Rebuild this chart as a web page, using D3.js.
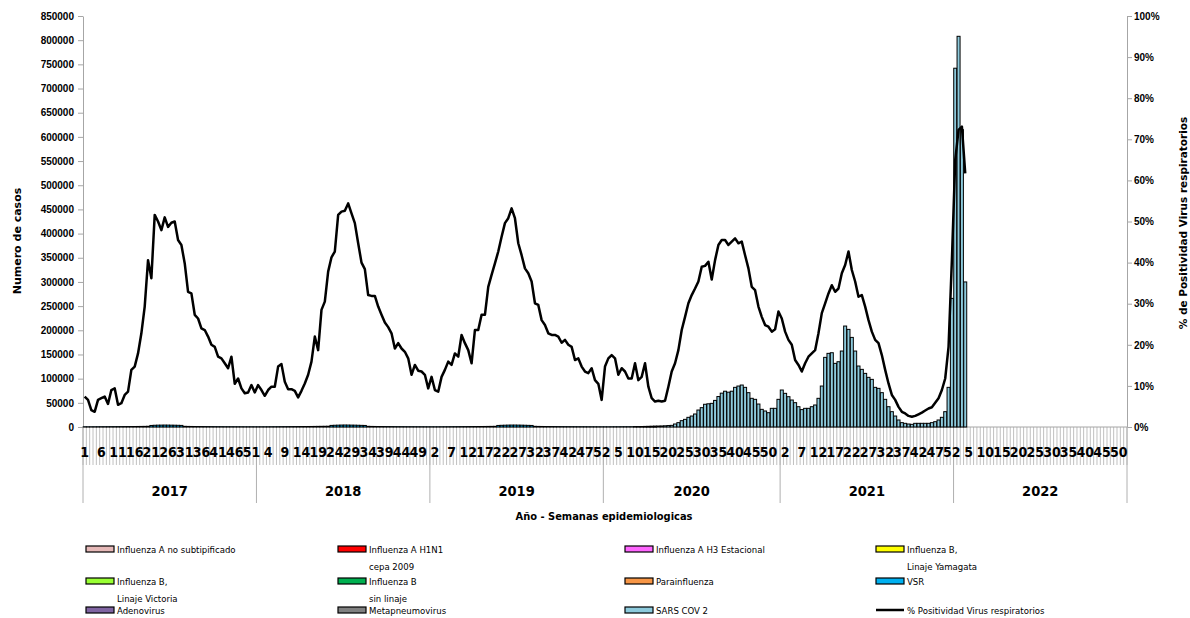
<!DOCTYPE html>
<html><head><meta charset="utf-8">
<script src="https://cdn.jsdelivr.net/npm/d3@7"></script>
<style>
body{margin:0;background:#fff}
svg{display:block}
</style>
</head><body>
<svg id="chart" width="1190" height="618"></svg>
<script>
// ---------------- DATA ----------------
const years = [2017, 2018, 2019, 2020, 2021, 2022];
const weeksPerYear = [52, 52, 52, 53, 52, 52];

// % positividad virus respiratorios (per week, per year)
const pos2017 = [7.4,6.6,4.1,3.7,6.6,7.0,7.4,5.6,9.0,9.4,5.4,5.8,7.8,8.6,13.9,14.7,17.9,22.8,29.3,40.6,36.2,51.6,50.0,47.9,51.0,48.7,49.7,50.0,45.5,44.3,39.8,32.9,32.5,27.3,26.4,24.0,23.6,22.0,20.0,19.5,17.1,16.7,15.5,14.3,17.1,10.5,11.8,9.4,8.2,8.4,10.2,8.4];
const pos2018 = [10.2,9.0,7.6,9.0,9.8,9.8,14.7,15.3,11.0,9.2,9.2,8.8,7.2,8.8,10.6,12.7,15.9,22.0,18.7,28.5,30.5,37.8,41.3,42.7,51.6,52.4,52.6,54.4,52.0,49.6,44.7,40.0,38.4,32.1,31.9,31.9,29.3,27.3,25.4,24.3,22.8,19.1,20.4,19.1,18.3,16.7,12.7,15.1,13.7,13.5,12.7,9.4];
const pos2019 = [12.2,9.0,8.6,12.2,13.9,15.9,15.1,17.9,17.1,22.4,20.4,18.7,15.5,23.6,23.6,27.3,27.3,34.1,37.0,39.8,42.7,46.3,49.6,50.8,53.2,50.8,44.7,41.8,38.6,37.4,35.4,30.1,29.7,26.0,24.8,22.8,22.4,22.4,22.0,20.5,21.2,20.0,19.5,16.3,16.7,14.7,13.5,13.1,14.3,11.4,10.5,6.6];
const pos2020 = [14.7,16.7,17.5,16.7,12.7,14.3,13.5,11.8,11.8,15.5,11.4,12.2,15.5,9.8,7.0,6.2,6.4,6.2,6.4,9.8,13.5,15.5,18.7,23.6,26.8,30.1,32.1,33.7,35.4,39.0,39.2,40.2,35.9,40.6,44.3,45.5,45.5,44.3,45.1,45.9,44.7,45.1,41.8,38.6,34.1,33.3,29.3,26.8,24.8,24.4,23.2,23.8,28.1];
const pos2021 = [26.4,23.2,21.2,20.0,16.3,15.1,13.5,15.5,17.1,17.9,18.7,22.8,27.7,30.1,32.5,34.5,32.9,33.7,37.4,39.4,42.7,38.2,35.4,31.7,32.1,29.3,26.0,23.2,21.2,20.4,17.5,13.9,10.6,7.8,6.6,4.9,3.7,3.3,2.7,2.5,2.7,3.1,3.5,4.0,4.5,4.8,5.9,7.0,9.0,11.8,19.5,40.6];
const pos2022 = [65.0,72.3,73.1,61.7];

// SARS COV 2 cases
const sars2020 = [0,0,0,0,0,0,0,0,0,100,300,600,900,1200,1500,1800,2000,2200,2500,3000,3400,6200,9000,13100,15800,20000,22700,26900,35100,40000,47000,48000,48900,55000,63000,70000,74000,72000,74000,82000,84700,86800,82000,71000,59300,57200,47500,36500,33100,29600,38600,38600,57200];
const sars2021 = [76500,69600,62700,55800,50300,42000,36000,38600,38600,42000,45500,59300,84700,144000,152300,153600,131600,135000,157100,208800,201900,185300,157100,126100,119200,110900,102700,98500,82000,79900,71000,57200,42000,31700,22700,14500,9000,7600,6200,5500,7600,7600,7600,7600,7600,9000,11000,14500,20000,31700,82000,266000];
const sars2022 = [742000,808000,615000,300000];

// VSR cases
const vsr2017 = [500,450,480,520,560,600,620,650,700,720,760,800,850,900,950,1000,1100,1200,1300,1500,3200,3600,3800,3900,4000,3900,3800,3700,3500,3300,1400,1200,1100,1000,950,900,850,800,750,700,650,650,600,600,580,560,540,520,500,500,500,480];
const vsr2018 = [480,470,500,520,560,600,640,680,720,760,800,850,900,950,1000,1050,1100,1200,1300,1400,1500,1600,3300,3600,3800,4000,4100,4000,3900,3800,3600,3400,3200,1400,1200,1100,1000,950,900,850,800,750,700,680,650,620,600,580,560,540,520,500];
const vsr2019 = [480,470,500,520,560,600,640,680,720,760,800,850,900,950,1000,1050,1100,1200,1300,1400,3200,3500,3700,3900,4000,4000,3900,3800,3600,3400,3200,1400,1200,1100,1000,950,900,850,800,750,700,680,650,620,600,580,560,540,520,500,480,460];
const vsr2020 = [450,450,500,520,540,560,580,600,600,550,500,400,300,200,150,100];

const seriesNames = ["Influenza A no subtipificado","Influenza A H1N1\ncepa 2009","Influenza A H3 Estacional","Influenza B,\nLinaje Yamagata","Influenza B,\nLinaje Victoria","Influenza B\nsin linaje","Parainfluenza","VSR","Adenovirus","Metapneumovirus","SARS COV 2"];
const seriesColors = ["#E6B9B8","#FF0000","#FF66FF","#FFFF00","#99FF33","#00B050","#F79646","#00B0F0","#8064A2","#808080","#8DCADC"];
const seriesByYear = [
  {}, {}, {}, {}, {}, {}, {},
  {2017: vsr2017, 2018: vsr2018, 2019: vsr2019, 2020: vsr2020},
  {}, {},
  {2020: sars2020, 2021: sars2021, 2022: sars2022}
];
const positivityByYear = {2017: pos2017, 2018: pos2018, 2019: pos2019, 2020: pos2020, 2021: pos2021, 2022: pos2022};
const lineLabel = "% Positividad Virus respiratorios";
const leftTicks = d3.range(0, 850001, 50000);
const rightTicks = d3.range(0, 101, 10);

// ---------------- CHART ----------------
const svg = d3.select("#chart");
const L = 83, R = 1127, T = 16, B = 427;

const cats = [];
years.forEach((y, yi) => { for (let w = 1; w <= weeksPerYear[yi]; w++) cats.push({year: y, week: w}); });

const rows = cats.map(c => {
  const r = {};
  seriesNames.forEach((n, si) => {
    const arr = seriesByYear[si][c.year];
    r[n] = arr && arr[c.week - 1] != null ? arr[c.week - 1] : 0;
  });
  return r;
});
const posVals = cats.map(c => {
  const arr = positivityByYear[c.year];
  return arr && arr[c.week - 1] != null ? arr[c.week - 1] : null;
});

const x = d3.scaleBand().domain(d3.range(cats.length)).range([L, R]).paddingInner(0.1).paddingOuter(0.05);
const yL = d3.scaleLinear().domain([0, 850000]).range([B, T]);
const yR = d3.scaleLinear().domain([0, 100]).range([B, T]);
const half = (x.step() - x.bandwidth()) / 2;
const boundary = i => i < cats.length ? x(i) - half : x(cats.length - 1) + x.bandwidth() + half;

const gray = "#a6a6a6";
const narrow = "'Liberation Sans Narrow','DejaVu Sans Condensed','Liberation Sans',sans-serif";

// left axis
const gL = svg.append("g").attr("transform", `translate(${L},0)`)
  .call(d3.axisLeft(yL).tickValues(leftTicks).tickFormat(d3.format("d")).tickSize(5).tickSizeOuter(0).tickPadding(4));
gL.select(".domain").attr("stroke", gray);
gL.selectAll(".tick line").attr("stroke", gray);
gL.selectAll("text").attr("font-family", "'Liberation Sans',Arial,sans-serif").attr("font-weight", "bold").attr("font-size", 10).attr("fill", "#000");

// right axis
const gR = svg.append("g").attr("transform", `translate(${R},0)`)
  .call(d3.axisRight(yR).tickValues(rightTicks).tickFormat(d => d + "%").tickSize(5).tickSizeOuter(0).tickPadding(2));
gR.select(".domain").attr("stroke", gray);
gR.selectAll(".tick line").attr("stroke", gray);
gR.selectAll("text").attr("font-family", "'Liberation Sans',Arial,sans-serif").attr("font-weight", "bold").attr("font-size", 10).attr("fill", "#000");

// category boundary ticks
svg.append("g").selectAll("line").data(d3.range(cats.length + 1)).join("line")
  .attr("x1", i => boundary(i)).attr("x2", i => boundary(i))
  .attr("y1", B).attr("y2", 465).attr("stroke", "#c0c0c0").attr("stroke-width", 1);
// year separators
const yearStarts = [];
let acc = 0;
weeksPerYear.forEach(n => { yearStarts.push(acc); acc += n; });
yearStarts.push(acc);
svg.append("g").selectAll("line").data(yearStarts).join("line")
  .attr("x1", i => boundary(i)).attr("x2", i => boundary(i))
  .attr("y1", B).attr("y2", 503).attr("stroke", "#b0b0b0").attr("stroke-width", 1);
svg.append("line").attr("x1", L).attr("x2", R).attr("y1", B).attr("y2", B).attr("stroke", gray);

// week labels
svg.append("g").selectAll("text").data(d3.range(0, cats.length, 5)).join("text")
  .attr("x", i => x(i) + x.bandwidth() / 2).attr("y", 457)
  .attr("text-anchor", "middle").attr("font-family", narrow).attr("font-weight", "bold").attr("font-size", 14)
  .text(i => cats[i].week);
// year labels
svg.append("g").selectAll("text").data(years).join("text")
  .attr("x", (y, yi) => (boundary(yearStarts[yi]) + boundary(yearStarts[yi + 1])) / 2).attr("y", 496)
  .attr("text-anchor", "middle").attr("font-family", narrow).attr("font-weight", "bold").attr("font-size", 14.5)
  .text(d => d);

// stacked bars
const stacked = d3.stack().keys(seriesNames)(rows);
svg.append("g").selectAll("g").data(stacked).join("g")
  .attr("fill", (d, i) => seriesColors[i])
  .selectAll("rect").data(d => d.map((v, i) => ({v, i})).filter(o => o.v[1] - o.v[0] > 0)).join("rect")
  .attr("x", o => x(o.i)).attr("width", x.bandwidth())
  .attr("y", o => yL(o.v[1])).attr("height", o => yL(o.v[0]) - yL(o.v[1]))
  .attr("stroke", "#000").attr("stroke-width", 1);

// positivity line
const line = d3.line().defined(d => d != null)
  .x((d, i) => x(i) + x.bandwidth() / 2).y(d => yR(d));
svg.append("path").datum(posVals).attr("d", line)
  .attr("fill", "none").attr("stroke", "#000").attr("stroke-width", 2.5).attr("stroke-linejoin", "round");

// axis titles
svg.append("text").attr("transform", "translate(21,241) rotate(-90)").attr("text-anchor", "middle")
  .attr("font-family", "'DejaVu Sans',Verdana,sans-serif").attr("font-weight", "bold").attr("font-size", 11)
  .text("Numero de casos");
svg.append("text").attr("transform", "translate(1187,223) rotate(-90)").attr("text-anchor", "middle")
  .attr("font-family", "'DejaVu Sans',Verdana,sans-serif").attr("font-weight", "bold").attr("font-size", 10.5)
  .text("% de Positividad Virus respiratorios");
svg.append("text").attr("x", 604).attr("y", 520).attr("text-anchor", "middle")
  .attr("font-family", narrow).attr("font-weight", "bold").attr("font-size", 11)
  .text("Año - Semanas epidemiologicas");

// legend
const colX = [86, 338, 625, 876];
const rowY = [549, 581, 610];
const legendItems = seriesNames.map((n, i) => ({name: n, color: seriesColors[i], type: "bar"}));
legendItems.push({name: lineLabel, type: "line"});
const lg = svg.append("g");
legendItems.forEach((it, k) => {
  const cx = colX[k % 4], cy = rowY[Math.floor(k / 4)];
  if (it.type === "bar") {
    lg.append("rect").attr("x", cx).attr("y", cy - 3).attr("width", 28).attr("height", 6)
      .attr("fill", it.color).attr("stroke", "#000").attr("stroke-width", 1.2);
  } else {
    lg.append("line").attr("x1", cx).attr("x2", cx + 28).attr("y1", cy).attr("y2", cy)
      .attr("stroke", "#000").attr("stroke-width", 2.5);
  }
  const lines = it.name.split("\n");
  lines.forEach((t, li) => {
    lg.append("text").attr("x", cx + 31).attr("y", cy + 4 + li * 17)
      .attr("font-family", narrow).attr("font-size", 9.5).attr("fill", "#000").text(t);
  });
});
</script>
</body></html>
